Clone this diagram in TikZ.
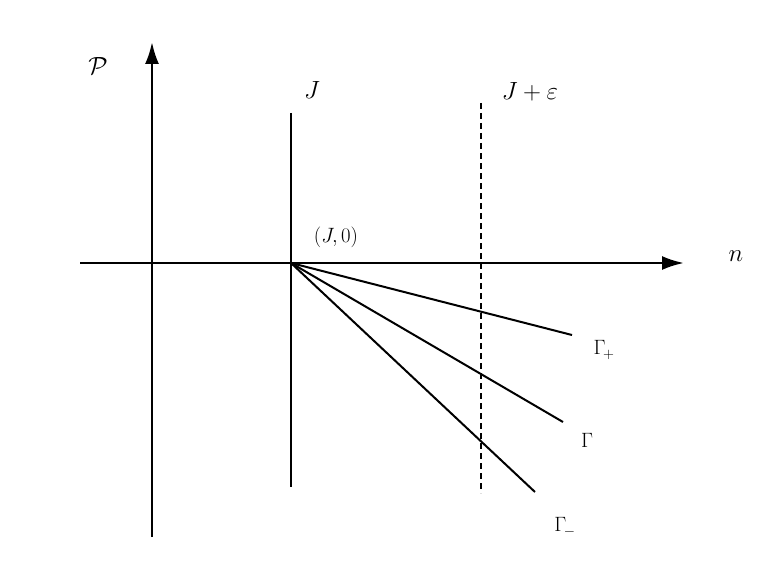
\documentclass[tikz,border=0pt]{standalone}
\usetikzlibrary{arrows.meta}
\usepackage{fontspec}
\setmainfont{Liberation Serif}
\begin{document}
\begin{tikzpicture}[x=1pt,y=-1pt,
  ax/.style={line width=2.6pt,-{Latex[length=22pt,width=14pt]}},
  ln/.style={line width=2pt},
  big/.style={font=\fontsize{30}{32}\selectfont},
  mid/.style={font=\fontsize{22}{24}\selectfont},
  sml/.style={font=\fontsize{20}{22}\selectfont}]
\useasboundingbox (0,0) rectangle (776,575);
\coordinate (vb) at (152,537); \coordinate (vt) at (152,42);
\coordinate (hl) at (80,263); \coordinate (hr) at (684,263);
\coordinate (o) at (291,263);
\coordinate (jt) at (291,113); \coordinate (jb) at (291,487);
\coordinate (dt) at (481,103); \coordinate (db) at (481,493);
\coordinate (gp) at (572,335); \coordinate (g) at (563,422); \coordinate (gm) at (535,492);
\draw[ax] (vb) -- (vt);
\draw[ax] (hl) -- (hr);
\draw[ln] (jt) -- (jb);
\draw[ln,dashed,line width=1.6pt,dash pattern=on 6pt off 4pt] (dt) -- (db);
\draw[ln] (o) -- (gp);
\draw[ln] (o) -- (g);
\draw[ln] (o) -- (gm);
\node[big] (P) at (98,66) {$\mathcal{P}$};
\node[big] (J) at (312,90) {$J$};
\node[big] (Je) at (530,92) {$J+\varepsilon$};
\node[mid] (J0) at (336,237) {$(J,0)$};
\node[big] (n) at (736,256) {$n$};
\node[sml] (Gp) at (604,350) {$\Gamma_{\!+}$};
\node[sml] (G) at (587,440) {$\Gamma$};
\node[sml] (Gm) at (565,527) {$\Gamma_{\!-}$};
\end{tikzpicture}
\end{document}
